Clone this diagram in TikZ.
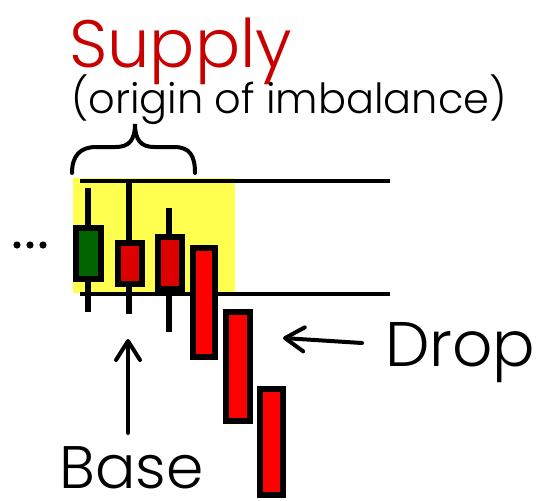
\documentclass[tikz,border=0pt]{standalone}
\usepackage{fontspec}
\setmainfont{Poppins}[UprightFont=* Light]
\usetikzlibrary{arrows.meta}
\definecolor{zoneyellow}{HTML}{FFFF50}
\definecolor{supplyred}{HTML}{C80000}
\definecolor{bullgreen}{HTML}{006400}
\definecolor{basered}{HTML}{DD0000}
\definecolor{dropred}{HTML}{FF0000}
\tikzset{
  zoneline/.style={line width=4pt},
  wick/.style={line width=6pt},
  candle/.style={draw=black, line width=6pt},
  pointer/.style={line width=4pt, line cap=round,
    -{Straight Barb[length=19pt, width=24pt, line cap=round, line join=round]}},
  label/.style={inner sep=0pt, anchor=base west}
}
\begin{document}
\begin{tikzpicture}[x=1pt, y=-1pt]
  \useasboundingbox (0,0) rectangle (547,501);
  % supply zone
  \fill[zoneyellow] (73,178) rectangle (235,293);
  \draw[zoneline] (80,181) -- (390,181);
  \draw[zoneline] (80,293.5) -- (390,293.5);
  % wicks of the base candles
  \draw[wick] (88,188) -- (88,312);
  \draw[wick] (129,180) -- (129,314);
  \draw[wick] (169,208) -- (169,332);
  % base candles
  \filldraw[candle, fill=bullgreen] (76,228) rectangle (101,279);
  \filldraw[candle, fill=basered] (118,243) rectangle (142,284);
  \filldraw[candle, fill=basered] (158,237) rectangle (182,289);
  % drop candles
  \filldraw[candle, fill=dropred] (193,248) rectangle (215,357);
  \filldraw[candle, fill=dropred] (226,312) rectangle (250,421);
  \filldraw[candle, fill=dropred] (260,389) rectangle (283,495);
  % earlier candles
  \foreach \x in {17,30,43} \fill (\x,245) circle (3.6pt);
  % brace over the base
  \draw[line width=4pt, line cap=round]
    (72,173) .. controls (72,156) and (80,147) .. (96,147) -- (116,147)
    .. controls (129,147) and (135,140) .. (135,124)
    .. controls (135,140) and (141,147) .. (154,147) -- (174,147)
    .. controls (190,147) and (195,156) .. (195,173);
  % labels
  \node[label, text=supplyred, font=\fontsize{67}{67}\selectfont] (supply) at (69,67) {Supply};
  \node[label, font=\fontsize{41.5}{41.5}\selectfont] (origin) at (71,113) {(origin of imbalance)};
  \node[label, font=\fontsize{60}{60}\selectfont] (base) at (59,488) {Base};
  \node[label, font=\fontsize{63}{63}\selectfont] (drop) at (385,366) {Drop};
  % pointers
  \coordinate (basetail) at (128,433);
  \coordinate (basetip) at (128,339);
  \coordinate (droptail) at (362,343);
  \coordinate (droptip) at (283,338);
  \draw[pointer] (basetail) -- (basetip);
  \draw[pointer] (droptail) -- (droptip);
\end{tikzpicture}
\end{document}
